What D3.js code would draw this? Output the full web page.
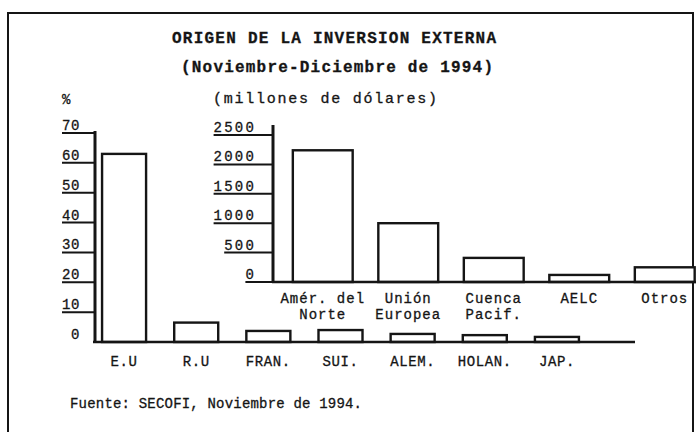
<!DOCTYPE html>
<html>
<head>
<meta charset="utf-8">
<script src="https://cdn.jsdelivr.net/npm/d3@7/dist/d3.min.js"></script>
<style>
  html, body { margin: 0; padding: 0; background: #fff; }
  svg { display: block; }
  text { font-family: 'Liberation Mono', 'DejaVu Sans Mono', monospace; fill: #151515; stroke: #151515; stroke-width: 0.3; }
</style>
</head>
<body>
<svg id="chart" width="696" height="432"></svg>
<script>
// porcentaje por pais
const countries = ['E.U', 'R.U', 'FRAN.', 'SUI.', 'ALEM.', 'HOLAN.', 'JAP.']
const countryShare = [63, 6.5, 3.7, 4, 2.7, 2.3, 1.7]
const shareTicks = [0, 10, 20, 30, 40, 50, 60, 70]

// millones de dolares por region
const regions = ['Amér. del\nNorte', 'Unión\nEuropea', 'Cuenca\nPacif.', 'AELC', 'Otros']
const regionAmount = [2240, 1000, 410, 120, 250]
const amountTicks = [0, 500, 1000, 1500, 2000, 2500]

const svg = d3.select('#chart')
const ink = '#151515'

// marco de la hoja
svg.append('path')
  .attr('d', 'M8,432 L8,13 L693,13 L693,432')
  .attr('fill', 'none')
  .attr('stroke', ink)
  .attr('stroke-width', 2)

// titulos
const head = svg.append('g')
head.append('text').attr('x', 172).attr('y', 43)
  .attr('textLength', 324).attr('lengthAdjust', 'spacing')
  .attr('font-size', 16).attr('font-weight', 'bold')
  .text('ORIGEN DE LA INVERSION EXTERNA')
head.append('text').attr('x', 181).attr('y', 72)
  .attr('textLength', 312).attr('lengthAdjust', 'spacing')
  .attr('font-size', 16).attr('font-weight', 'bold')
  .text('(Noviembre-Diciembre de 1994)')
head.append('text').attr('x', 213).attr('y', 103)
  .attr('textLength', 224).attr('lengthAdjust', 'spacing')
  .attr('font-size', 15)
  .text('(millones de dólares)')
head.append('text').attr('x', 62).attr('y', 104)
  .attr('font-size', 14)
  .text('%')

// etiquetas de eje subrayadas, estilo maquina de escribir
function typedTicks(g, scale, ticks, axisX, labelRight, pitch, skipZero) {
  g.selectAll('text.tick')
    .data(ticks)
    .join('text')
    .attr('class', 'tick')
    .attr('x', labelRight)
    .attr('y', d => scale(d) - 3)
    .attr('text-anchor', 'end')
    .attr('font-size', 14)
    .attr('letter-spacing', pitch - 8.4)
    .text(d => d)

  g.selectAll('line.tick')
    .data(skipZero ? ticks.filter(d => d > 0) : ticks)
    .join('line')
    .attr('class', 'tick')
    .attr('x1', d => labelRight - String(d).length * pitch)
    .attr('x2', axisX)
    .attr('y1', d => scale(d))
    .attr('y2', d => scale(d))
    .attr('stroke', ink)
    .attr('stroke-width', 2)
}

// grafica principal (%)
const x = d3.scaleBand()
  .domain(countries)
  .range([88, 593])
  .paddingInner(0.39)
  .paddingOuter(0.195)

const y = d3.scaleLinear()
  .domain([0, 70])
  .range([342, 133])

const main = svg.append('g')

main.selectAll('rect.share')
  .data(countries)
  .join('rect')
  .attr('class', 'share')
  .attr('x', d => x(d))
  .attr('y', (d, i) => y(countryShare[i]))
  .attr('width', x.bandwidth())
  .attr('height', (d, i) => y(0) - y(countryShare[i]))
  .attr('fill', 'none')
  .attr('stroke', ink)
  .attr('stroke-width', 2.4)

main.call(typedTicks, y, shareTicks, 95, 80, 9, true)

main.append('line')
  .attr('x1', 95).attr('x2', 95)
  .attr('y1', y(70) - 2).attr('y2', y(0))
  .attr('stroke', ink).attr('stroke-width', 3)

// linea base
main.append('line')
  .attr('x1', 93).attr('x2', 635)
  .attr('y1', y(0)).attr('y2', y(0))
  .attr('stroke', ink).attr('stroke-width', 2.6)

main.selectAll('text.country')
  .data(countries)
  .join('text')
  .attr('class', 'country')
  .attr('x', d => x(d) + x.bandwidth() / 2)
  .attr('y', 366)
  .attr('text-anchor', 'middle')
  .attr('font-size', 14)
  .attr('letter-spacing', 0.6)
  .text(d => d)

// grafica interior (millones de dolares)
const xr = d3.scaleBand()
  .domain(regions)
  .range([280, 707.5])
  .paddingInner(0.3)
  .paddingOuter(0.15)

const yr = d3.scaleLinear()
  .domain([0, 2500])
  .range([282, 135])

const inset = svg.append('g')

inset.selectAll('rect.amount')
  .data(regions)
  .join('rect')
  .attr('class', 'amount')
  .attr('x', d => xr(d))
  .attr('y', (d, i) => yr(regionAmount[i]))
  .attr('width', xr.bandwidth())
  .attr('height', (d, i) => yr(0) - yr(regionAmount[i]))
  .attr('fill', '#fff')
  .attr('stroke', ink)
  .attr('stroke-width', 2.4)

inset.call(typedTicks, yr, amountTicks, 273, 256, 10.6, false)

inset.append('line')
  .attr('x1', 273).attr('x2', 273)
  .attr('y1', yr(2500) - 10).attr('y2', yr(0))
  .attr('stroke', ink).attr('stroke-width', 3)

inset.append('line')
  .attr('x1', 272).attr('x2', 696)
  .attr('y1', yr(0)).attr('y2', yr(0))
  .attr('stroke', ink).attr('stroke-width', 2.6)

inset.selectAll('text.region')
  .data(regions)
  .join('text')
  .attr('class', 'region')
  .attr('text-anchor', 'middle')
  .attr('font-size', 14)
  .attr('letter-spacing', 1.0)
  .selectAll('tspan')
  .data(d => d.split('\n').map(t => ({t, c: xr(d) + xr.bandwidth() / 2})))
  .join('tspan')
  .attr('x', d => d.c)
  .attr('y', (d, i) => 303 + i * 16)
  .text(d => d.t)

// fuente
svg.append('text')
  .attr('x', 70).attr('y', 408)
  .attr('textLength', 292).attr('lengthAdjust', 'spacing')
  .attr('font-size', 14)
  .text('Fuente: SECOFI, Noviembre de 1994.')
</script>
</body>
</html>
